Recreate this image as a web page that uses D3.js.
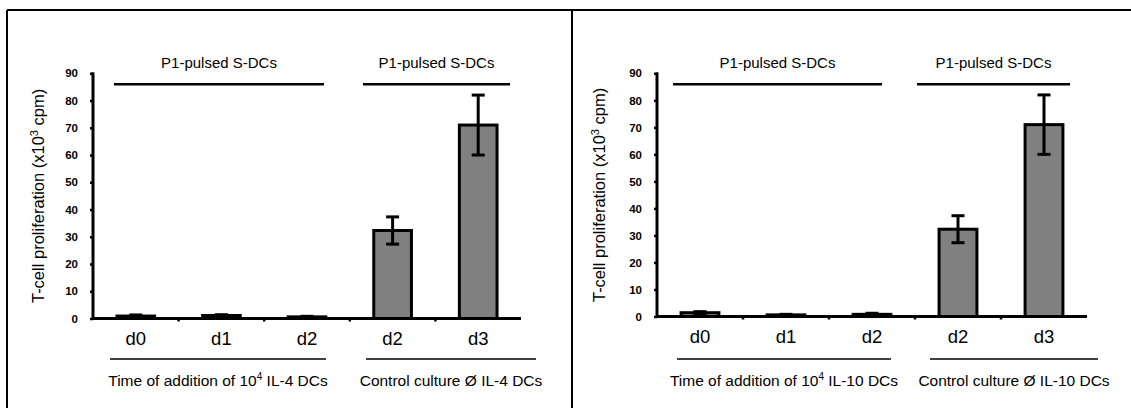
<!DOCTYPE html>
<html>
<head>
<meta charset="utf-8">
<script src="https://cdn.jsdelivr.net/npm/d3@7"></script>
<style>
  html, body { margin: 0; padding: 0; background: #fff; }
  svg { display: block; font-family: Arial, "Liberation Sans", Helvetica, sans-serif; }
</style>
</head>
<body>
<svg id="chart" width="1131" height="408"></svg>
<script>
// ---- data ----
const categories = ["d0", "d1", "d2", "d2", "d3"];
const yTicks = [0, 10, 20, 30, 40, 50, 60, 70, 80, 90];
const il4Values = [0.9, 1.1, 0.6, 32.3, 71.0];
const il4Errors = [0.4, 0.3, 0.2, 5.0, 11.0];
const il10Values = [1.4, 0.6, 0.8, 32.3, 71.0];
const il10Errors = [0.4, 0.2, 0.4, 5.0, 11.0];
const yLabel = "T-cell proliferation (x10";
const topGroupLabels = ["P1-pulsed S-DCs", "P1-pulsed S-DCs"];
const il4BottomLabels = ["Time of addition of 10|4| IL-4 DCs", "Control culture \u00D8 IL-4 DCs"];
const il10BottomLabels = ["Time of addition of 10|4| IL-10 DCs", "Control culture \u00D8 IL-10 DCs"];

// ---- layout ----
const panels = [
  { values: il4Values, errors: il4Errors, bottom: il4BottomLabels,
    x0: 93, x1: 521, yTop: 73.3, yBot: 318.5, labelX: 44,
    topLines: [[114, 324], [363, 510]], bottomLines: [[110, 326], [366, 536]] },
  { values: il10Values, errors: il10Errors, bottom: il10BottomLabels,
    x0: 657, x1: 1087, yTop: 73.3, yBot: 316.5, labelX: 605,
    topLines: [[673, 882], [917, 1070]], bottomLines: [[677, 891], [930, 1098]] }
];

const svg = d3.select("#chart");

// frame
svg.append("line").attr("x1", 7).attr("x2", 1131).attr("y1", 10).attr("y2", 10)
  .attr("stroke", "#000").attr("stroke-width", 2);
svg.append("line").attr("x1", 7).attr("x2", 7).attr("y1", 10).attr("y2", 408)
  .attr("stroke", "#000").attr("stroke-width", 2);
svg.append("line").attr("x1", 572).attr("x2", 572).attr("y1", 10).attr("y2", 408)
  .attr("stroke", "#000").attr("stroke-width", 2);

panels.forEach(p => {
  const g = svg.append("g");
  const x = d3.scaleBand().domain(d3.range(categories.length)).range([p.x0, p.x1]).paddingInner(0.56).paddingOuter(0.28);
  const xb = d3.scaleBand().domain(d3.range(categories.length)).range([p.x0, p.x1]);
  const y = d3.scaleLinear().domain([0, 90]).range([p.yBot, p.yTop]);

  // y axis
  const yAxis = d3.axisLeft(y).tickValues(yTicks).tickSize(3).tickPadding(12);
  const ya = g.append("g").attr("transform", `translate(${p.x0},0)`).call(yAxis);
  ya.select(".domain").attr("d", `M0,${p.yTop - 1}V${p.yBot}`).attr("stroke-width", 3);
  ya.selectAll(".tick line").attr("stroke-width", 2.5);
  ya.selectAll(".tick text").attr("font-size", 11.5).attr("font-weight", "bold")
    .attr("font-family", "Arial, 'Liberation Sans', sans-serif").attr("fill", "#000");

  // bars
  g.selectAll("rect.bar").data(p.values).join("rect").attr("class", "bar")
    .attr("x", (d, i) => x(i)).attr("width", x.bandwidth())
    .attr("y", d => y(d)).attr("height", d => y(0) - y(d))
    .attr("fill", "#808080").attr("stroke", "#000").attr("stroke-width", 3);

  // error bars
  const cap = 6.5;
  p.values.forEach((v, i) => {
    const cx = x(i) + x.bandwidth() / 2;
    const hi = y(v + p.errors[i]), lo = y(Math.max(0, v - p.errors[i]));
    g.append("line").attr("x1", cx).attr("x2", cx).attr("y1", hi).attr("y2", lo)
      .attr("stroke", "#000").attr("stroke-width", 3);
    [hi, lo].forEach(yy => g.append("line").attr("x1", cx - cap).attr("x2", cx + cap)
      .attr("y1", yy).attr("y2", yy).attr("stroke", "#000").attr("stroke-width", 3));
  });

  // x axis
  const xAxis = d3.axisBottom(xb).tickSize(0).tickFormat(i => categories[i]).tickPadding(13);
  const xa = g.append("g").attr("transform", `translate(0,${p.yBot})`).call(xAxis);
  xa.select(".domain").attr("d", `M${p.x0},0H${p.x1}`).attr("stroke-width", 3);
  xa.selectAll(".tick text").attr("font-size", 18.5).attr("fill", "#000")
    .attr("font-family", "Arial, 'Liberation Sans', sans-serif");
  // small separators between categories
  d3.range(1, categories.length).forEach(i => {
    g.append("line").attr("x1", xb(i)).attr("x2", xb(i)).attr("y1", p.yBot).attr("y2", p.yBot + 3)
      .attr("stroke", "#000").attr("stroke-width", 2.5);
  });

  // y label
  const lab = g.append("text")
    .attr("transform", `translate(${p.labelX},${(p.yTop + p.yBot) / 2}) rotate(-90)`)
    .attr("text-anchor", "middle").attr("font-size", 16.5).attr("fill", "#000");
  lab.append("tspan").text(yLabel);
  lab.append("tspan").attr("font-size", 11).attr("dy", -6).text("3");
  lab.append("tspan").attr("dy", 6).text(" cpm)");

  // top group lines & labels
  p.topLines.forEach((s, k) => {
    g.append("line").attr("x1", s[0]).attr("x2", s[1]).attr("y1", 84.3).attr("y2", 84.3)
      .attr("stroke", "#000").attr("stroke-width", 2.5);
    g.append("text").attr("x", (s[0] + s[1]) / 2).attr("y", 68).attr("text-anchor", "middle")
      .attr("font-size", 15).attr("fill", "#000").text(topGroupLabels[k]);
  });

  // bottom group lines & labels
  p.bottomLines.forEach((s, k) => {
    g.append("line").attr("x1", s[0]).attr("x2", s[1]).attr("y1", 359).attr("y2", 359)
      .attr("stroke", "#000").attr("stroke-width", 1.5);
    const parts = p.bottom[k].split("|");
    const t = g.append("text").attr("x", (s[0] + s[1]) / 2).attr("y", 386).attr("text-anchor", "middle")
      .attr("font-size", 15.5).attr("fill", "#000");
    if (parts.length === 3) {
      t.append("tspan").text(parts[0]);
      t.append("tspan").attr("font-size", 10).attr("dy", -6).text(parts[1]);
      t.append("tspan").attr("dy", 6).text(parts[2]);
    } else {
      t.text(parts[0]);
    }
  });
});
</script>
</body>
</html>
